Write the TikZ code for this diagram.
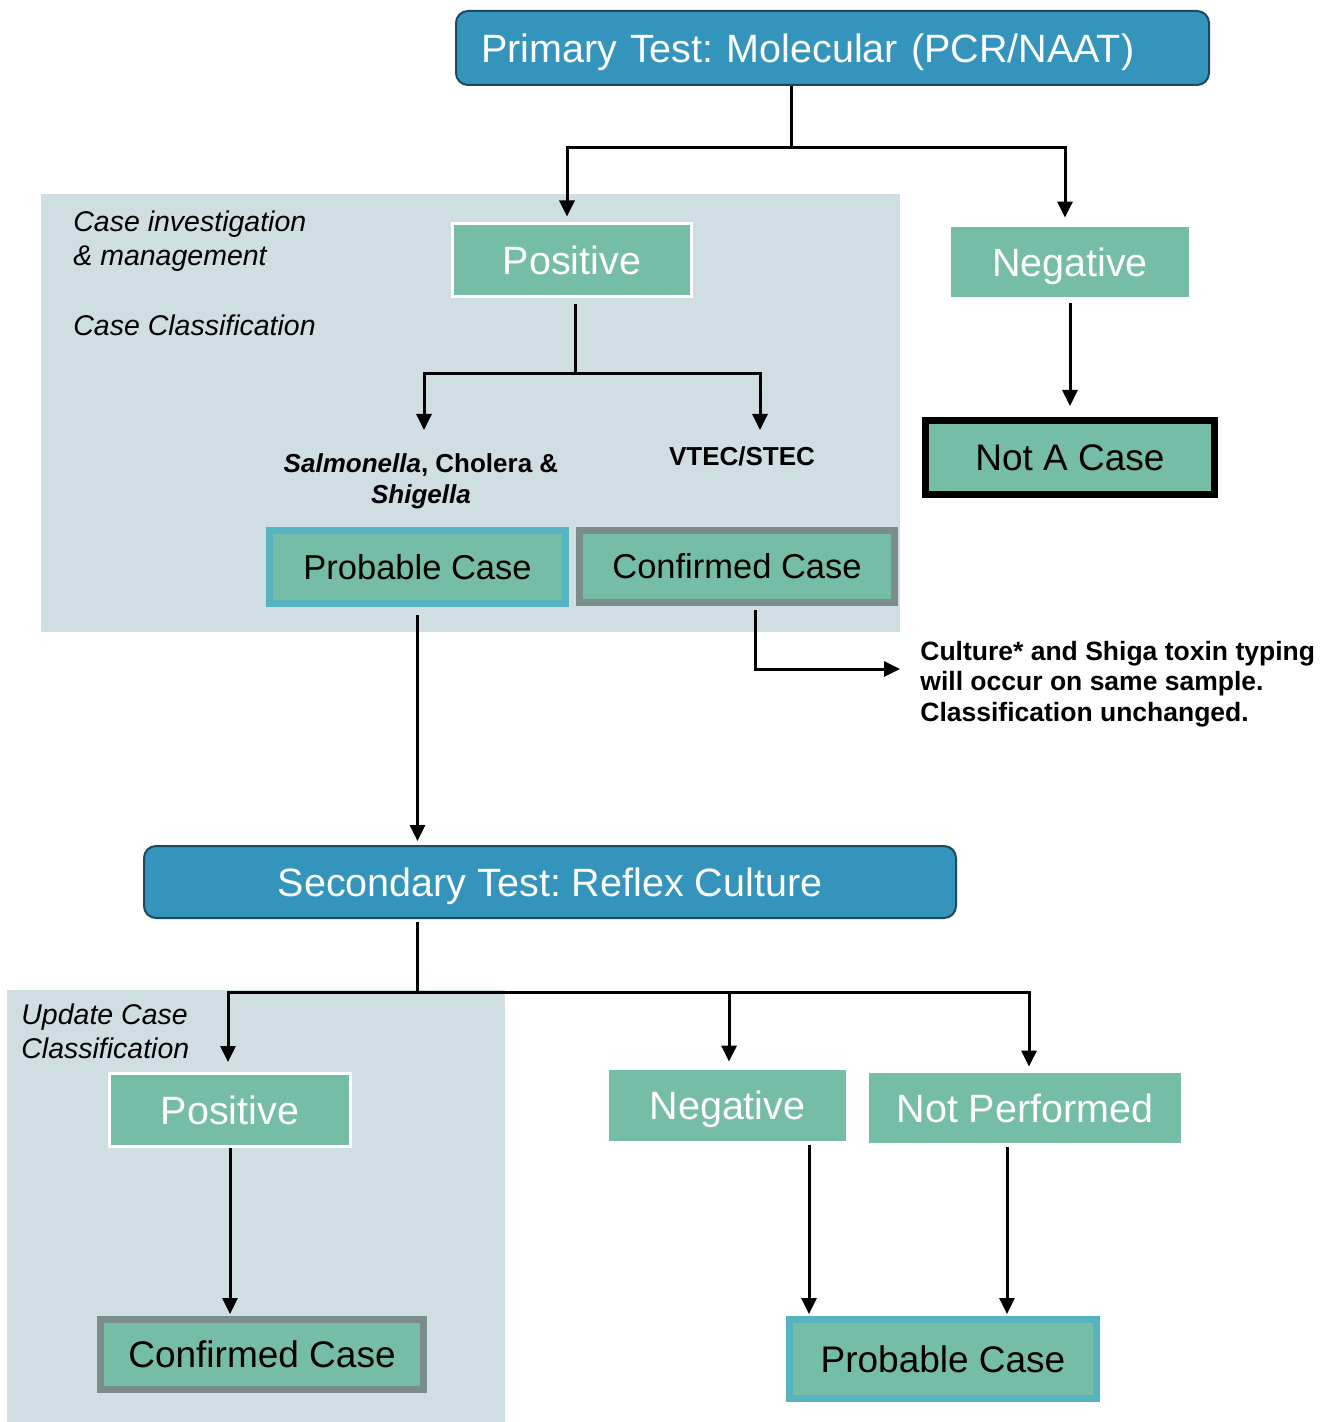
\documentclass[tikz,border=0pt]{standalone}
\usepackage{fontspec}
\setmainfont{Liberation Sans}
\frenchspacing
\usetikzlibrary{shapes.geometric, arrows.meta}
\definecolor{testblue}{HTML}{3594BB}
\definecolor{testedge}{HTML}{1C4A5C}
\definecolor{resgreen}{HTML}{75BDA7}
\definecolor{panel}{HTML}{CFDEE3}
\definecolor{probteal}{HTML}{56B4C1}
\definecolor{confgray}{HTML}{7A8C8C}
\tikzstyle{testbox} = [rectangle, rounded corners=6pt, draw=testedge, line width=1pt, fill=testblue, text=white, inner sep=0pt, text height=14.1pt, text depth=0pt, font=\fontsize{19.75pt}{23pt}\selectfont]
\tikzstyle{result} = [rectangle, fill=resgreen, text=white, inner sep=0pt, text height=14.1pt, text depth=0pt, font=\fontsize{19.75pt}{23pt}\selectfont]
\tikzstyle{resultw} = [result, draw=white, line width=1.5pt]
\tikzstyle{casebox} = [rectangle, fill=resgreen, text=black, line width=3.5pt, inner sep=0pt, text height=13.25pt, text depth=0pt, font=\fontsize{18.5pt}{22pt}\selectfont]
\tikzstyle{probable} = [casebox, draw=probteal]
\tikzstyle{confirmed} = [casebox, draw=confgray]
\tikzstyle{nocase} = [casebox, draw=black]
\tikzstyle{smallcase} = [text height=12.35pt, font=\fontsize{17.25pt}{20pt}\selectfont]
\tikzstyle{boldnote} = [inner sep=0pt, font=\bfseries\fontsize{13pt}{15.5pt}\selectfont]
\tikzstyle{sidenote} = [inner sep=0pt, align=left, anchor=west, font=\itshape\fontsize{14.25pt}{17pt}\selectfont]
\tikzstyle{conn} = [line width=1.5pt]
\tikzstyle{arrow} = [line width=1.5pt, -{Triangle[length=8pt,width=7.5pt]}]

\begin{document}
\begin{tikzpicture}[x=0.5pt, y=-0.5pt]
\useasboundingbox (0,0) rectangle (1329,1422);

% shaded panels
\fill [panel] (41,194) rectangle (900,632);
\fill [panel] (7,990) rectangle (505,1422);

\node (primary) [testbox, minimum width=376.5pt, minimum height=37pt, text width=351.5pt, inner xsep=12.5pt, align=left] at (832.5,48) {Primary Test: Molecular (PCR/NAAT)};
\node (pos1) [resultw, minimum width=119.5pt, minimum height=36.5pt] at (572,260) {Positive};
\node (neg1) [result, minimum width=119pt, minimum height=35pt] at (1070,262) {Negative};
\node (notcase) [nocase, minimum width=144.5pt, minimum height=37pt] at (1070,457.5) {Not A Case};
\node (labinv) [sidenote] at (73,241) {Case investigation\\\& management};
\node (labcls) [sidenote] at (73,325) {Case Classification};
\node (salm) [boldnote, align=center] at (421,481) {\textit{Salmonella}, Cholera \&\\\textit{Shigella}};
\node (vtec) [boldnote] at (742,456) {VTEC/STEC};
\node (prob1) [probable, smallcase, minimum width=148pt, minimum height=36.5pt] at (417.5,567) {Probable Case};
\node (conf1) [confirmed, smallcase, minimum width=157.5pt, minimum height=36pt] at (737,566.5) {Confirmed Case};
\node (culture) [boldnote, align=left, anchor=west, font=\bfseries\fontsize{13.25pt}{15.25pt}\selectfont] at (920,684) {Culture* and Shiga toxin typing\\will occur on same sample.\\Classification unchanged.};

\node (secondary) [testbox, minimum width=406pt, minimum height=36pt] at (550,882) {Secondary Test: Reflex Culture};
\node (labupd) [sidenote] at (21,1031) {Update Case\\Classification};
\node (pos2) [resultw, minimum width=120.5pt, minimum height=36.5pt] at (230,1110) {Positive};
\node (neg2) [result, minimum width=118.5pt, minimum height=35.5pt] at (727.5,1105.5) {Negative};
\node (notperf) [result, minimum width=156pt, minimum height=35pt] at (1025,1108) {Not Performed};
\node (conf2) [confirmed, minimum width=161.5pt, minimum height=35pt] at (262,1354.5) {Confirmed Case};
\node (prob2) [probable, minimum width=153.5pt, minimum height=39.5pt] at (943,1359) {Probable Case};

% primary test branches
\coordinate (j1) at (791,148);
\draw [conn] (primary.south -| j1) -- (j1);
\draw [arrow, shorten >=2.75pt] (j1) -| ([xshift=-2.5pt]pos1.north);
\draw [arrow, shorten >=4.5pt] (j1) -| ([xshift=-2.5pt]neg1.north);
\draw [arrow, shorten <=3pt, shorten >=5.5pt] (neg1) -- (notcase);

\coordinate (j2) at (575,374);
\coordinate (split1) at (424,430);
\coordinate (split2) at (760,430);
\draw [conn, shorten <=3.25pt] ([xshift=1.5pt]pos1.south) -- (j2);
\draw [arrow] (j2) -| (split1);
\draw [arrow] (j2) -| (split2);

\draw [arrow, shorten <=4pt, shorten >=2pt] (prob1.south) -- (prob1.south |- secondary.north);
\coordinate (c1) at (900,669);
\draw [arrow, shorten <=1.75pt] ([xshift=9pt]conf1.south) |- (c1);

% secondary test branches
\coordinate (j3) at (417,992);
\draw [conn, shorten <=1.5pt] (secondary.south -| j3) -- (j3);
\draw [arrow, shorten >=5pt] (j3) -| ([xshift=-1pt]pos2.north);
\draw [arrow, shorten >=4pt] (j3) -| ([xshift=0.75pt]neg2.north);
\draw [arrow, shorten >=3pt] (j3) -| ([xshift=2pt]notperf.north);

\draw [arrow, shorten >=1pt] (pos2.south) -- (pos2.south |- conf2.north);
\draw [arrow, shorten <=2pt, shorten >=1pt] ([xshift=40.75pt]neg2.south) -- ([xshift=40.75pt]neg2.south |- prob2.north);
\draw [arrow, shorten <=2pt, shorten >=1pt] ([xshift=-9pt]notperf.south) -- ([xshift=-9pt]notperf.south |- prob2.north);

\end{tikzpicture}
\end{document}
